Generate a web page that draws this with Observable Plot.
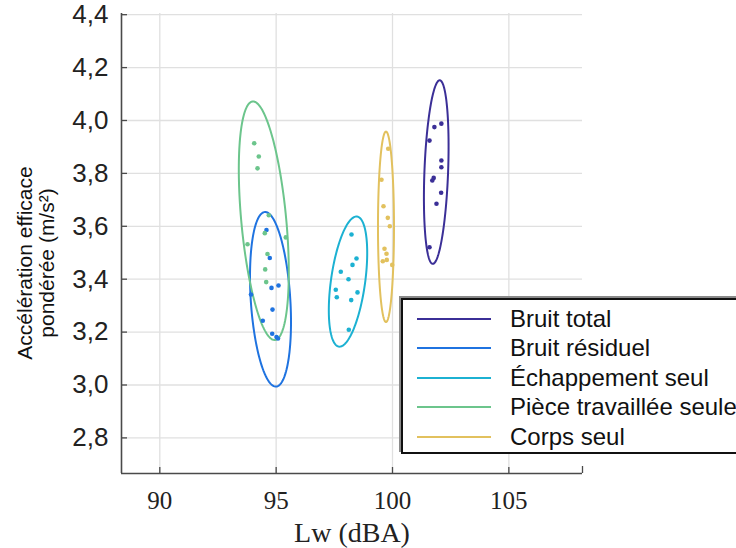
<!DOCTYPE html>
<html><head><meta charset="utf-8">
<script src="https://cdn.jsdelivr.net/npm/d3@7"></script>
<script src="https://cdn.jsdelivr.net/npm/@observablehq/plot@0.6"></script>
<style>
html,body{margin:0;padding:0;background:#fff;overflow:hidden}
#wrap{position:relative;width:736px;height:548px;overflow:hidden}
#ylab{position:absolute;left:36px;top:263px;transform:translate(-50%,-50%) rotate(-90deg);font-family:"Liberation Sans",Arial,sans-serif;font-size:21px;line-height:22px;text-align:center;white-space:nowrap;color:#111}
#legend{position:absolute;left:401px;top:298px;width:420px;height:152px;background:#fff;border:2px solid #111;box-shadow:-2px -2px 0 #8a8a8a;font-family:"Liberation Sans",Arial,sans-serif;font-size:24px;color:#111}
.row{position:absolute;left:0;width:100%;height:30px}
.sw{position:absolute;left:14px;top:14px;width:74px;height:2px}
.lb{position:absolute;left:107px;top:0;line-height:30px;white-space:nowrap}
</style></head>
<body>
<div id="wrap">
  <div id="chart"></div>
  <div id="ylab">Accélération efficace<br>pondérée (m/s²)</div>
  <div id="legend"></div>
</div>
<script>
const series = ["Bruit total","Bruit résiduel","Échappement seul","Pièce travaillée seule","Corps seul"];
const colors = ["#3b2f97","#1f73e0","#1cb1d2","#6cc58c","#e2c15e"];

const totalLw  = [101.80,102.10,101.59,102.10,102.10,101.77,101.71,102.09,101.89,101.59];
const totalAcc = [3.975,3.988,3.924,3.849,3.823,3.783,3.773,3.727,3.685,3.521];
const residLw  = [94.585,94.727,94.800,95.101,93.919,94.843,94.426,94.830,95.015,95.080];
const residAcc = [3.586,3.480,3.367,3.376,3.342,3.285,3.243,3.194,3.181,3.176];
const echapLw  = [98.238,98.453,98.281,97.778,98.109,97.563,97.606,98.496,98.225,98.122];
const echapAcc = [3.569,3.478,3.454,3.428,3.400,3.360,3.332,3.350,3.321,3.209];
const pieceLw  = [94.057,94.254,94.199,94.684,94.512,95.415,93.769,94.628,94.529,94.572];
const pieceAcc = [3.914,3.864,3.819,3.642,3.574,3.558,3.532,3.495,3.437,3.389];
const corpsLw  = [99.815,99.527,99.613,99.798,99.884,99.656,99.742,99.583,99.755,99.987];
const corpsAcc = [3.893,3.776,3.676,3.632,3.600,3.515,3.496,3.468,3.473,3.454];

// ellipse parameters (data units): centre, half-extent in x and y, correlation
const ellCx  = [101.88, 94.757, 98.088, 94.469, 99.72];
const ellCy  = [3.805, 3.324, 3.391, 3.621, 3.598];
const ellA   = [0.53, 0.881, 0.825, 1.074, 0.344];
const ellB   = [0.347, 0.330, 0.246, 0.451, 0.360];
const ellRho = [0.28, -0.26, 0.44, -0.43, 0.0];

const xTicks = [90,95,100,105];
const yTicks = [2.8,3.0,3.2,3.4,3.6,3.8,4.0,4.2,4.4];
const xDomain = [88.354,108.165];
const yDomain = [2.6654,4.4045];

const lwSets = [totalLw,residLw,echapLw,pieceLw,corpsLw];
const accSets = [totalAcc,residAcc,echapAcc,pieceAcc,corpsAcc];
const points = [];
series.forEach((s,i)=>lwSets[i].forEach((x,j)=>points.push({s, x, y: accSets[i][j]})));
const ell = [];
series.forEach((s,i)=>{
  const phi = Math.acos(ellRho[i]);
  const N = 160;
  for(let k=0;k<=N;k++){
    const t = 2*Math.PI*k/N;
    ell.push({s, x: ellCx[i]+ellA[i]*Math.cos(t), y: ellCy[i]+ellB[i]*Math.cos(t-phi)});
  }
});

const W=736,H=548,mL=121,mR=154,mT=13,mB=75;
const iW=W-mL-mR, iH=H-mT-mB;
const sans = "Liberation Sans, Arial, sans-serif";
const serif = "Liberation Serif, Times New Roman, serif";
const axisCol = "#4a4a4a";

const chart = Plot.plot({
  width:W, height:H, marginLeft:mL, marginRight:mR, marginTop:mT, marginBottom:mB,
  x:{domain:xDomain, label:null},
  y:{domain:yDomain, label:null},
  color:{domain:series, range:colors},
  style:{background:"#fff"},
  marks:[
    Plot.gridX(xTicks,{stroke:"#e0e0e0",strokeOpacity:1,strokeWidth:1.3}),
    Plot.gridY(yTicks,{stroke:"#e0e0e0",strokeOpacity:1,strokeWidth:1.3}),
    Plot.ruleX(xTicks,{stroke:axisCol,strokeWidth:1.3,insetTop:iH-6}),
    Plot.ruleX([xDomain[1]],{stroke:axisCol,strokeWidth:1.3,insetTop:iH-7}),
    Plot.ruleY(yTicks,{stroke:axisCol,strokeWidth:1.3,insetRight:iW-6}),
    Plot.ruleX([xDomain[0]],{stroke:axisCol,strokeWidth:1.6}),
    Plot.ruleY([yDomain[0]],{stroke:axisCol,strokeWidth:1.6}),
    Plot.line(ell,{x:"x",y:"y",z:"s",stroke:"s",strokeWidth:2}),
    Plot.dot(points,{x:"x",y:"y",fill:"s",r:2.3,stroke:null}),
    Plot.axisX(xTicks,{tickSize:0,tickPadding:18,fontSize:25,fontFamily:serif,fill:"#222",label:null}),
    Plot.axisY(yTicks,{tickSize:0,tickPadding:13,fontSize:26,fontFamily:sans,fill:"#222",label:null,tickFormat:d=>d.toFixed(1).replace(".",",")}),
    Plot.text(["Lw (dBA)"],{text:d=>d,frameAnchor:"bottom",dy:60,fontSize:28,fontFamily:serif,fill:"#222",lineAnchor:"middle"})
  ]
});
document.getElementById("chart").appendChild(chart);

const leg = document.getElementById("legend");
const rowCenters = [19,48,78,107,137];
series.forEach((s,i)=>{
  const r = document.createElement("div");
  r.className="row"; r.style.top=(rowCenters[i]-15)+"px";
  const sw = document.createElement("div"); sw.className="sw"; sw.style.background=colors[i];
  const lb = document.createElement("div"); lb.className="lb"; lb.textContent=s;
  r.appendChild(sw); r.appendChild(lb); leg.appendChild(r);
});
</script>
</body></html>
